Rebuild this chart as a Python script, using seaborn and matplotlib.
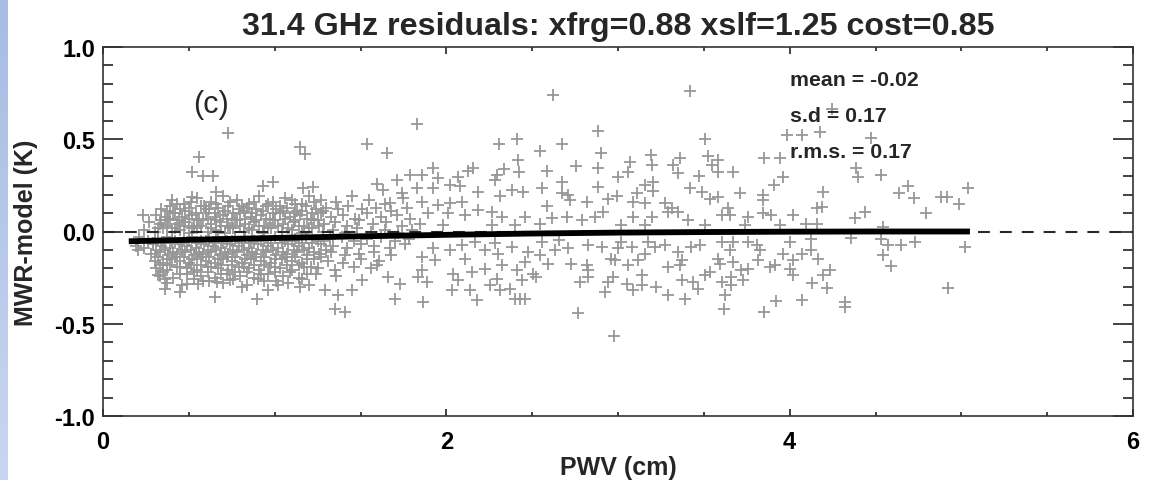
import numpy as np
import pandas as pd
import matplotlib
matplotlib.use("Agg")
import matplotlib.pyplot as plt
from matplotlib.ticker import MultipleLocator, FormatStrFormatter
from matplotlib.colors import LinearSegmentedColormap
import seaborn as sns

# ---------------- data ----------------
title = "31.4 GHz residuals: xfrg=0.88 xslf=1.25 cost=0.85"
x_label = "PWV (cm)"
y_label = "MWR-model (K)"
panel_tag = "(c)"
stats_text = ["mean = -0.02", "s.d = 0.17", "r.m.s. = 0.17"]

# dense cloud at low PWV
dense_left = [
    (0.40,0.17),(0.47,0.15),(0.55,0.18),(0.63,0.16),(0.70,0.19),(0.78,0.17),(0.85,0.15),(0.91,0.19),
    (0.99,0.16),(1.06,0.18),(1.12,0.15),(1.20,0.19),(1.27,0.17),(1.36,0.16),(1.45,0.19),(1.55,0.17),
    (1.64,0.15),(1.75,0.18),
    (0.34,0.12),(0.39,0.14),(0.45,0.12),(0.50,0.13),(0.57,0.14),(0.62,0.12),(0.67,0.13),(0.73,0.14),
    (0.79,0.12),(0.84,0.13),(0.89,0.12),(0.95,0.14),(1.01,0.12),(1.07,0.13),(1.13,0.11),(1.18,0.14),
    (1.24,0.12),(1.30,0.13),(1.37,0.12),(1.43,0.14),(1.51,0.12),(1.59,0.13),(1.68,0.11),(1.77,0.13),
    (0.31,0.09),(0.36,0.08),(0.41,0.10),(0.46,0.08),(0.52,0.09),(0.56,0.07),(0.60,0.10),(0.65,0.08),
    (0.70,0.09),(0.75,0.07),(0.80,0.10),(0.86,0.08),(0.92,0.09),(0.97,0.07),(1.03,0.10),(1.09,0.08),
    (1.15,0.09),(1.21,0.07),(1.27,0.10),(1.33,0.08),(1.40,0.09),(1.47,0.07),(1.54,0.10),(1.62,0.08),
    (1.71,0.09),(1.79,0.07),
    (0.27,0.05),(0.33,0.04),(0.38,0.06),(0.43,0.04),(0.48,0.05),(0.53,0.03),(0.58,0.06),(0.63,0.04),
    (0.68,0.05),(0.73,0.03),(0.78,0.06),(0.83,0.04),(0.88,0.05),(0.94,0.03),(0.99,0.06),(1.05,0.04),
    (1.11,0.05),(1.17,0.03),(1.23,0.06),(1.29,0.04),(1.35,0.05),(1.42,0.03),(1.49,0.06),(1.57,0.04),
    (1.65,0.05),(1.74,0.03),
    (0.24,0.01),(0.30,0.00),(0.35,0.02),(0.40,0.00),(0.45,0.01),(0.50,-0.01),(0.55,0.02),(0.61,0.00),
    (0.66,0.01),(0.71,-0.01),(0.76,0.02),(0.82,0.00),(0.87,0.01),(0.93,-0.01),(0.98,0.02),(1.04,0.00),
    (1.10,0.01),(1.16,-0.01),(1.22,0.02),(1.28,0.00),(1.34,0.01),(1.41,-0.01),(1.48,0.02),(1.56,0.00),
    (1.64,0.01),(1.72,-0.01),(1.80,0.01),
    (0.21,-0.03),(0.26,-0.05),(0.32,-0.04),(0.37,-0.03),(0.42,-0.05),(0.47,-0.04),(0.52,-0.03),(0.57,-0.05),
    (0.62,-0.04),(0.67,-0.03),(0.72,-0.05),(0.77,-0.04),(0.83,-0.03),(0.88,-0.05),(0.94,-0.04),(1.00,-0.03),
    (1.06,-0.05),(1.12,-0.04),(1.18,-0.03),(1.25,-0.05),(1.32,-0.04),(1.39,-0.03),(1.46,-0.05),(1.54,-0.04),
    (1.62,-0.03),(1.70,-0.05),(1.78,-0.04),
    (0.19,-0.08),(0.24,-0.09),(0.29,-0.07),(0.34,-0.08),(0.39,-0.09),(0.44,-0.07),(0.49,-0.08),(0.54,-0.09),
    (0.59,-0.07),(0.64,-0.08),(0.69,-0.09),(0.74,-0.07),(0.79,-0.08),(0.85,-0.09),(0.90,-0.07),(0.96,-0.08),
    (1.02,-0.09),(1.08,-0.07),(1.14,-0.08),(1.20,-0.09),(1.27,-0.07),(1.34,-0.08),(1.42,-0.09),(1.50,-0.07),
    (1.58,-0.08),(1.67,-0.09),(1.76,-0.07),
    (0.28,-0.12),(0.33,-0.11),(0.38,-0.13),(0.43,-0.12),(0.48,-0.11),(0.53,-0.13),(0.58,-0.12),(0.63,-0.11),
    (0.68,-0.13),(0.73,-0.12),(0.78,-0.11),(0.84,-0.13),(0.89,-0.12),(0.95,-0.11),(1.01,-0.13),(1.07,-0.12),
    (1.13,-0.11),(1.19,-0.13),(1.26,-0.12),(1.33,-0.11),(1.41,-0.13),(1.49,-0.12),(1.58,-0.11),(1.68,-0.13),
    (0.30,-0.16),(0.35,-0.17),(0.40,-0.15),(0.45,-0.16),(0.50,-0.17),(0.55,-0.15),(0.60,-0.16),(0.65,-0.17),
    (0.70,-0.15),(0.75,-0.16),(0.81,-0.17),(0.86,-0.15),(0.92,-0.16),(0.98,-0.17),(1.04,-0.15),(1.10,-0.16),
    (1.16,-0.17),(1.23,-0.15),(1.31,-0.16),(1.40,-0.17),(1.50,-0.15),(1.61,-0.16),
    (0.31,-0.20),(0.37,-0.21),(0.43,-0.19),(0.49,-0.20),(0.55,-0.21),(0.61,-0.19),(0.67,-0.20),(0.73,-0.21),
    (0.79,-0.19),(0.85,-0.20),(0.91,-0.21),(0.97,-0.19),(1.03,-0.20),(1.10,-0.21),(1.17,-0.19),(1.25,-0.20),
    (1.35,-0.21),(1.46,-0.19),(1.56,-0.20),
    (0.33,-0.24),(0.41,-0.25),(0.49,-0.23),(0.57,-0.24),(0.65,-0.25),(0.72,-0.23),(0.80,-0.24),(0.88,-0.25),
    (0.96,-0.23),(1.05,-0.24),(1.14,-0.25),(1.24,-0.23),(1.36,-0.24),
    (0.37,-0.28),(0.46,-0.29),(0.58,-0.27),(0.70,-0.28),(0.84,-0.29),(0.94,-0.27),(1.08,-0.28),(1.20,-0.29),
]

# second layer of the densest core (0.3 < PWV < 1.3)
dense_core = [
    (0.43,0.15),(0.51,0.16),(0.59,0.14),(0.66,0.15),(0.74,0.16),(0.81,0.14),(0.88,0.16),(0.96,0.15),
    (1.03,0.14),(1.10,0.17),(1.16,0.15),(1.23,0.16),
    (0.37,0.11),(0.42,0.10),(0.48,0.11),(0.54,0.10),(0.60,0.12),(0.65,0.10),(0.71,0.11),(0.76,0.10),
    (0.82,0.11),(0.87,0.10),(0.93,0.11),(0.99,0.10),(1.05,0.11),(1.11,0.10),(1.16,0.11),(1.22,0.10),
    (1.28,0.11),
    (0.34,0.06),(0.39,0.07),(0.44,0.06),(0.50,0.07),(0.55,0.06),(0.61,0.07),(0.66,0.06),(0.72,0.07),
    (0.77,0.06),(0.83,0.07),(0.89,0.06),(0.95,0.07),(1.00,0.06),(1.06,0.07),(1.12,0.06),(1.19,0.07),
    (1.25,0.06),
    (0.32,0.02),(0.37,0.03),(0.42,0.02),(0.47,0.03),(0.52,0.02),(0.57,0.03),(0.63,0.02),(0.69,0.03),
    (0.74,0.02),(0.80,0.03),(0.85,0.02),(0.91,0.03),(0.96,0.02),(1.02,0.03),(1.08,0.02),(1.14,0.03),
    (1.20,0.02),(1.26,0.03),
    (0.29,-0.06),(0.35,-0.06),(0.40,-0.05),(0.45,-0.06),(0.50,-0.05),(0.55,-0.06),(0.60,-0.05),(0.65,-0.06),
    (0.70,-0.06),(0.75,-0.05),(0.81,-0.06),(0.86,-0.06),(0.92,-0.05),(0.98,-0.06),(1.04,-0.06),(1.10,-0.05),
    (1.16,-0.06),(1.22,-0.06),(1.29,-0.05),
    (0.31,-0.10),(0.36,-0.10),(0.41,-0.11),(0.46,-0.10),(0.51,-0.10),(0.56,-0.11),(0.61,-0.10),(0.66,-0.10),
    (0.71,-0.11),(0.76,-0.10),(0.82,-0.10),(0.87,-0.11),(0.93,-0.10),(0.99,-0.10),(1.05,-0.11),(1.11,-0.10),
    (1.17,-0.10),(1.23,-0.11),(1.30,-0.10),
    (0.32,-0.14),(0.37,-0.15),(0.42,-0.14),(0.47,-0.14),(0.52,-0.15),(0.57,-0.14),(0.62,-0.14),(0.67,-0.15),
    (0.72,-0.14),(0.77,-0.14),(0.83,-0.15),(0.88,-0.14),(0.94,-0.14),(1.00,-0.15),(1.06,-0.14),(1.12,-0.14),
    (1.19,-0.15),(1.27,-0.14),
    (0.33,-0.18),(0.39,-0.18),(0.45,-0.19),(0.51,-0.18),(0.57,-0.18),(0.63,-0.19),(0.69,-0.18),(0.75,-0.18),
    (0.82,-0.19),(0.88,-0.18),(0.94,-0.18),(1.00,-0.19),(1.07,-0.18),(1.14,-0.18),(1.21,-0.19),
    (0.35,-0.22),(0.45,-0.23),(0.53,-0.22),(0.61,-0.22),(0.69,-0.23),(0.77,-0.22),(0.84,-0.22),(0.92,-0.23),
    (1.00,-0.22),(1.09,-0.22),(1.19,-0.23),
    (0.36,-0.26),(0.53,-0.26),(0.62,-0.27),(0.76,-0.26),(0.90,-0.26),(1.01,-0.27),(1.16,-0.26),
]

outer_left = [
    (0.726,0.533),(0.561,0.406),(0.516,0.321),(0.584,0.301),(0.643,0.301),(0.658,0.212),(0.516,0.188),
    (0.231,0.089),(1.147,0.460),(1.176,0.418),(1.539,0.475),(1.652,0.424),(0.930,0.248),(0.992,0.270),
    (1.167,0.234),(1.225,0.243),(1.594,0.255),(1.633,0.224),(1.710,0.279),(1.788,0.306),(1.743,0.207),
    (1.672,0.152),(1.827,0.585),
    (0.206,-0.10),(0.322,-0.237),(0.361,-0.31),(0.448,-0.328),(0.652,-0.355),(0.895,-0.364),(0.963,-0.319),
    (1.021,-0.292),(0.808,-0.30),(1.147,-0.30),(1.293,-0.319),(1.370,-0.346),(1.351,-0.418),(1.409,-0.437),
    (1.448,-0.319),(1.507,-0.265),(1.594,-0.183),(1.662,-0.246),(1.730,-0.283),(1.701,-0.364),(0.555,-0.283),
    (0.487,-0.283),(0.740,-0.265),(0.662,-0.274),
]

middle_upper = [
    (2.623,0.741),(3.419,0.759),(2.308,0.473),(2.409,0.502),(2.671,0.473),(2.881,0.545),(2.545,0.436),
    (2.900,0.424),(3.506,0.50),(3.526,0.409),(3.545,0.36),(2.415,0.388),(2.423,0.321),(2.584,0.328),
    (2.755,0.355),(2.881,0.346),(3.069,0.379),(3.059,0.324),(3.192,0.415),(3.196,0.36),(3.361,0.397),
    (3.322,0.36),(3.351,0.315),(3.471,0.303),(3.001,0.297),(2.671,0.27),(2.881,0.243),(2.555,0.234),
    (2.380,0.224),(2.448,0.216),(2.186,0.216),(2.312,0.194),(2.293,0.306),(2.337,0.339),(2.157,0.342),
    (2.128,0.328),(1.924,0.346),(1.856,0.306),(1.953,0.288),(2.069,0.297),(2.021,0.252),(2.079,0.248),
    (1.827,0.234),(1.924,0.234),(2.283,0.279),(2.710,0.197),(2.720,0.17),(2.671,0.207),(2.817,0.161),
    (2.584,0.14),(2.943,0.176),(2.992,0.194),(3.108,0.207),(3.157,0.252),(3.205,0.27),(3.205,0.219),
    (3.419,0.234),(3.490,0.212),(3.535,0.176),(3.157,0.152),(3.273,0.152),(3.312,0.125),(3.088,0.161),
    (1.856,0.161),(1.953,0.143),(2.021,0.152),(2.089,0.161),(1.895,0.098),(2.011,0.098),(2.108,0.089),
    (2.186,0.116),(2.264,0.107),(2.322,0.08),(2.458,0.08),(2.613,0.071),(2.700,0.08),(2.788,0.061),
    (2.865,0.08),(2.914,0.107),(3.088,0.08),(3.196,0.08),(3.293,0.107),(3.351,0.107),(3.409,0.061),
    (3.020,0.034),(2.545,0.043),(1.846,0.043),(1.982,0.034),(2.40,0.034),(3.506,0.034),(2.264,0.034),
    (3.157,0.034),
]

middle_lower = [
    (1.866,-0.382),(2.176,-0.37),(2.031,-0.319),(2.137,-0.315),(1.885,-0.274),(2.069,-0.265),(2.254,-0.292),
    (2.312,-0.319),(2.370,-0.31),(2.40,-0.364),(2.429,-0.364),(2.458,-0.364),(2.293,-0.255),(2.438,-0.265),
    (2.525,-0.246),(2.768,-0.442),(2.978,-0.569),(2.778,-0.274),(2.924,-0.328),(2.943,-0.274),(2.972,-0.246),
    (3.05,-0.283),(3.088,-0.319),(3.137,-0.292),(3.224,-0.30),(3.293,-0.346),(3.370,-0.265),(3.390,-0.364),
    (3.438,-0.274),(3.467,-0.31),(3.506,-0.237),(2.826,-0.21),(2.826,-0.246),(2.729,-0.174),(2.817,-0.183),
    (3.137,-0.237),(3.293,-0.192),(3.361,-0.183),(2.982,-0.156),(3.059,-0.183),(3.118,-0.156),(1.856,-0.21),
    (1.856,-0.138),(1.934,-0.156),(2.04,-0.228),(2.147,-0.219),(2.225,-0.201),(2.322,-0.183),(2.409,-0.21),
    (2.506,-0.228),(2.594,-0.174),(2.458,-0.165),(2.108,-0.147),(2.021,-0.10),(2.089,-0.074),(2.225,-0.10),
    (2.302,-0.12),(2.380,-0.083),(2.477,-0.11),(2.545,-0.129),(2.633,-0.10),(2.710,-0.092),(1.924,-0.092),
    (2.826,-0.074),(2.904,-0.083),(2.962,-0.147),(3.001,-0.092),(3.079,-0.083),(3.157,-0.12),(3.215,-0.083),
    (3.273,-0.074),(3.351,-0.11),(3.370,-0.156),(3.428,-0.083),(3.477,-0.074),(3.535,-0.219),(2.659,-0.047),
    (2.555,-0.056),(2.283,-0.065),(2.166,-0.056),(3.176,-0.056),(3.020,-0.056),(1.837,-0.246),
]

right_upper = [
    (3.982,0.524),(4.073,0.524),(4.176,0.542),(4.473,0.505),(4.248,0.665),(3.851,0.40),(3.943,0.397),
    (3.584,0.388),(3.584,0.324),(3.671,0.324),(3.962,0.297),(3.910,0.252),(4.389,0.346),(4.399,0.297),
    (4.531,0.306),(3.71,0.207),(3.846,0.197),(3.846,0.17),(4.195,0.212),(4.157,0.125),(4.186,0.134),
    (3.584,0.188),(3.642,0.125),(3.603,0.089),(3.652,0.089),(3.758,0.08),(3.846,0.098),(3.894,0.089),
    (4.020,0.089),(3.739,0.034),(4.098,0.043),(4.157,0.043),(3.943,0.034),(4.38,0.071),(4.438,0.103),
    (4.636,0.207),(4.69,0.248),(4.725,0.179),(4.793,0.098),(4.884,0.188),(4.919,0.188),(4.985,0.147),
    (5.04,0.237),(4.545,0.025),
]

right_lower = [
    (5.02,-0.083),(4.923,-0.304),(4.729,-0.056),(4.651,-0.074),(4.574,-0.074),(4.545,-0.129),(4.593,-0.188),
    (4.360,-0.033),(4.321,-0.382),(4.321,-0.409),(4.073,-0.373),(3.918,-0.377),(3.851,-0.437),(3.618,-0.418),
    (3.626,-0.346),(3.603,-0.274),(3.661,-0.292),(3.729,-0.265),(3.661,-0.246),(4.020,-0.237),(4.131,-0.279),
    (4.215,-0.304),(4.195,-0.237),(4.234,-0.21),(4.166,-0.147),(4.127,-0.10),(4.069,-0.123),(4.020,-0.156),
    (3.962,-0.12),(3.914,-0.183),(3.885,-0.192),(3.817,-0.156),(3.827,-0.10),(3.758,-0.201),(3.719,-0.21),
    (3.671,-0.165),(3.594,-0.174),(3.584,-0.147),(3.652,-0.10),(3.603,-0.056),(3.671,-0.056),(3.758,-0.056),
    (3.807,-0.074),(4.001,-0.056),(4.127,-0.038),(4.534,-0.038),(4.001,-0.201),
]

# model curve (thick black)
model_pwv = [0.15, 0.5, 1.0, 1.5, 2.0, 2.5, 3.0, 3.5, 4.0, 4.5, 5.05]
model_res = [-0.053, -0.045, -0.035, -0.026, -0.018, -0.011, -0.006, -0.003, -0.001, 0.0, 0.0]

x_limits = (0, 6)
y_limits = (-1.0, 1.0)

# ---------------- figure ----------------
sns.set_style("ticks")
plt.rcParams["font.family"] = ["Liberation Sans", "DejaVu Sans"]
plt.rcParams["axes.unicode_minus"] = False

W, H = 1152, 481
fig = plt.figure(figsize=(W / 100, H / 100), dpi=100)
fig.patch.set_facecolor("white")

# light-blue slide strip at the left edge
strip = fig.add_axes([0, 0, 8 / W, 1])
grad = np.linspace(0, 1, 256)[:, None]
cm = LinearSegmentedColormap.from_list("strip", ["#a6bce3", "#c9d6ef"])
strip.imshow(grad, aspect="auto", cmap=cm, extent=[0, 1, 0, 1], origin="upper")
strip.set_axis_off()

ax = fig.add_axes([103 / W, 1 - 417 / H, (1133 - 103) / W, (417 - 48) / H])

pts = dense_left + dense_core + outer_left + middle_upper + middle_lower + right_upper + right_lower
df = pd.DataFrame(pts, columns=["pwv", "res"])
sns.scatterplot(data=df, x="pwv", y="res", marker="+", s=80, color="#979797",
                linewidth=1.3, ax=ax, zorder=2, legend=False)

ax.axhline(0, color="#2a2a2a", lw=1.5, dashes=(5.7, 4.8), zorder=3)

mdf = pd.DataFrame({"pwv": model_pwv, "res": model_res})
sns.lineplot(data=mdf, x="pwv", y="res", color="black", lw=4.2, ax=ax, zorder=4,
             solid_capstyle="butt", legend=False)

ax.set_xlim(*x_limits)
ax.set_ylim(*y_limits)

ax.xaxis.set_major_locator(MultipleLocator(2))
ax.xaxis.set_minor_locator(MultipleLocator(0.5))
ax.yaxis.set_major_locator(MultipleLocator(0.5))
ax.yaxis.set_minor_locator(MultipleLocator(0.1))
ax.yaxis.set_major_formatter(FormatStrFormatter("%.1f"))

ax.tick_params(axis="y", which="major", direction="in", length=14.4, width=1.2,
               left=True, right=True, labelsize=17, pad=5.5, colors="#222222")
ax.tick_params(axis="y", which="minor", direction="in", length=7.2, width=1.2,
               left=True, right=True, colors="#222222")
ax.tick_params(axis="x", which="major", direction="in", length=5, width=1.2,
               top=True, bottom=True, labelsize=17, pad=10.0, colors="#222222")
ax.tick_params(axis="x", which="minor", direction="in", length=3, width=1.2,
               top=True, bottom=True, colors="#222222")
for lab in ax.get_xticklabels() + ax.get_yticklabels():
    lab.set_fontweight("bold")
    lab.set_color("black")

for sp in ax.spines.values():
    sp.set_linewidth(1.2)
    sp.set_color("#333333")
    sp.set_visible(True)

ax.set_xlabel(x_label, fontsize=18, fontweight="bold")
ax.set_ylabel(y_label, fontsize=18, fontweight="bold")
ax.xaxis.label.set_verticalalignment("baseline")
ax.xaxis.set_label_coords(0.5, (417 - 475) / (417 - 48))
ax.yaxis.set_label_coords((38 - 103) / (1133 - 103), 0.5)

fig.text(618 / W, 1 - 35 / H, title, ha="center", va="baseline",
         fontsize=23.2, fontweight="bold")
fig.text(193 / W, 1 - 113 / H, panel_tag, ha="left", va="baseline",
         fontsize=22, fontweight="normal")
for txt, base in zip(stats_text, [86, 122, 158]):
    fig.text(790 / W, 1 - base / H, txt, ha="left", va="baseline",
             fontsize=15.3, fontweight="bold")

fig.savefig("out.png", dpi=100)
